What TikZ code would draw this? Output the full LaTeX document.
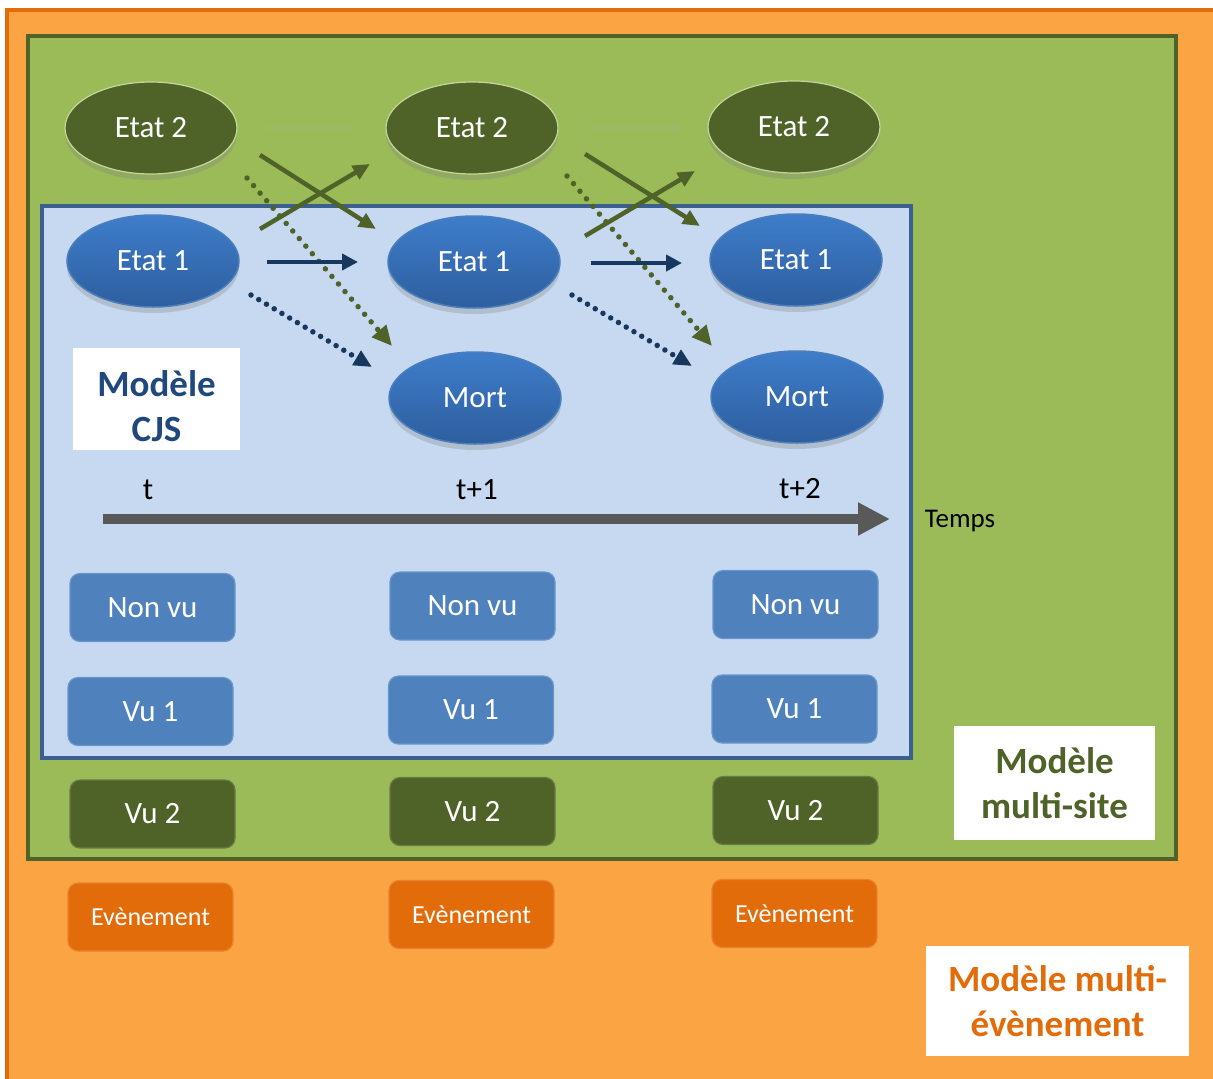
\documentclass[tikz,border=0pt]{standalone}
\usepackage{fontspec}
\setmainfont{Carlito}
\usetikzlibrary{arrows.meta,shadows,shapes.geometric}
\definecolor{orfill}{HTML}{FBA443}
\definecolor{orline}{HTML}{E36C0A}
\definecolor{grfill}{HTML}{9BBB59}
\definecolor{grdark}{HTML}{4F6228}
\definecolor{grlight}{HTML}{C3D69B}
\definecolor{blfill}{HTML}{C6D9F1}
\definecolor{blline}{HTML}{3B5F8E}
\definecolor{bltop}{HTML}{3E7DCA}
\definecolor{blbot}{HTML}{2E5E9F}
\definecolor{blborder}{HTML}{4A7EBB}
\definecolor{blrect}{HTML}{4F81BD}
\definecolor{blrectline}{HTML}{6A96CB}
\definecolor{navy}{HTML}{17375E}
\definecolor{timegray}{HTML}{595959}
\definecolor{ghost}{HTML}{9EB964}
\definecolor{cjsblue}{HTML}{1F497D}
\tikzset{
  ellbase/.style={ellipse, minimum width=172pt, minimum height=92pt, inner sep=0pt,
    text=white, font=\fontsize{31}{31}\selectfont,
    drop shadow={opacity=0.3, shadow xshift=0pt, shadow yshift=-6pt}},
  etattwo/.style={ellbase, fill=grdark, draw=grlight, line width=1.2pt},
  etatone/.style={ellbase, top color=bltop, bottom color=blbot, draw=blborder, line width=1.5pt},
  rectbase/.style={rectangle, rounded corners=10pt, minimum width=165pt, minimum height=68pt,
    inner sep=0pt, text=white, font=\fontsize{31}{31}\selectfont, line width=1.2pt},
  bluerect/.style={rectbase, fill=blrect, draw=blrectline},
  greenrect/.style={rectbase, fill=grdark, draw=grdark!85!white},
  orangerect/.style={rectbase, fill=orline, draw=orline!85!white, font=\fontsize{26}{26}\selectfont},
  labelbox/.style={rectangle, fill=white, inner sep=0pt, align=center,
    font=\bfseries\fontsize{37}{45}\selectfont},
  navyarrow/.style={navy, line width=4pt, -{Triangle[length=16pt,width=16pt]}},
  greenarrow/.style={grdark, line width=4.5pt, -{Triangle[length=17pt,width=15pt]}},
  ghostarrow/.style={ghost, line width=4pt, -{Triangle[length=10pt,width=10pt]}},
  navydots/.style={navy, line width=5.5pt, dash pattern=on 0pt off 9pt, line cap=round,
    -{Triangle[length=18pt,width=16pt]}},
  greendots/.style={grdark, line width=5.5pt, dash pattern=on 0pt off 10pt, line cap=round,
    -{Triangle[length=20pt,width=18pt]}},
  timelabel/.style={text=black, font=\fontsize{31}{31}\selectfont, inner sep=0pt}
}
\begin{document}
\begin{tikzpicture}[x=1pt,y=-1pt]
\useasboundingbox (0,0) rectangle (1213,1079);
\clip (0,0) rectangle (1213,1079);
\fill[white] (0,0) rectangle (1213,1079);
% frames
\draw[orline, fill=orfill, line width=4.5pt] (7,10) rectangle (1240,1110);
\draw[grdark, fill=grfill, line width=4.5pt] (28,36) rectangle (1176,859);
\draw[blline, fill=blfill, line width=4pt] (42,206) rectangle (911,758);

% label boxes
\node[labelbox, text=cjsblue, minimum width=167pt, minimum height=102pt] (cjs) at (156.5,399)
  {\raisebox{-11pt}[\height][\depth]{\begin{tabular}{@{}c@{}}Modèle\\CJS\end{tabular}}};
\node[labelbox, text=grdark, minimum width=201pt, minimum height=114pt] (msite) at (1054.5,783) {Modèle\\multi-site};
\node[labelbox, text=orline, minimum width=263pt, minimum height=110pt] (mevent) at (1057.5,1001) {Modèle multi-\\évènement};

% ellipses
\node[etattwo] (e2a) at (151,128) {Etat 2};
\node[etattwo] (e2b) at (472,128) {Etat 2};
\node[etattwo] (e2c) at (794,127) {Etat 2};
\node[etatone] (e1a) at (153,261) {Etat 1};
\node[etatone] (e1b) at (474,262) {Etat 1};
\node[etatone] (e1c) at (796,260) {Etat 1};
\node[etatone] (mb) at (475,398) {Mort};
\node[etatone] (mc) at (797,397) {Mort};

% arrow end points
\coordinate (g1s) at (265,128);  \coordinate (g1e) at (357,128);
\coordinate (g2s) at (590,128);  \coordinate (g2e) at (682,128);
\coordinate (h1s) at (267,262);  \coordinate (h1e) at (358,262);
\coordinate (h2s) at (591,263);  \coordinate (h2e) at (682,263);
\coordinate (d1s) at (260,155);  \coordinate (d1e) at (376,229);
\coordinate (d2s) at (585,154);  \coordinate (d2e) at (700,226);
\coordinate (u1s) at (260,229);  \coordinate (u1e) at (370,164);
\coordinate (u2s) at (585,236);  \coordinate (u2e) at (695,171);
\coordinate (gd1s) at (247,178); \coordinate (gd1e) at (392,346);
\coordinate (gd2s) at (567,176); \coordinate (gd2e) at (712,346);
\coordinate (nd1s) at (251,295); \coordinate (nd1e) at (372,367);
\coordinate (nd2s) at (572,295); \coordinate (nd2e) at (692,366);

\draw[ghostarrow] (g1s) -- (g1e);
\draw[ghostarrow] (g2s) -- (g2e);
\draw[greendots] (gd1s) -- (gd1e);
\draw[greendots] (gd2s) -- (gd2e);
\draw[navydots] (nd1s) -- (nd1e);
\draw[navydots] (nd2s) -- (nd2e);
\draw[navyarrow] (h1s) -- (h1e);
\draw[navyarrow] (h2s) -- (h2e);
\draw[greenarrow] (d1s) -- (d1e);
\draw[greenarrow] (d2s) -- (d2e);
\draw[greenarrow] (u1s) -- (u1e);
\draw[greenarrow] (u2s) -- (u2e);

% time axis
\coordinate (ts) at (103,519);
\coordinate (te) at (890,519);
\draw[timegray, line width=10pt, -{Triangle[length=32pt,width=31pt]}] (ts) -- (te);
\node[timelabel] (t0) at (148,490) {t};
\node[timelabel] (t1) at (477,490) {t+1};
\node[timelabel] (t2) at (800,489) {t+2};
\node[timelabel, font=\fontsize{27}{27}\selectfont] (temps) at (960,521) {Temps};

% rectangles
\node[bluerect] (nva) at (152.5,607.5) {Non vu};
\node[bluerect] (nvb) at (472.5,606) {Non vu};
\node[bluerect] (nvc) at (795.5,604.5) {Non vu};
\node[bluerect] (v1a) at (150.5,711.5) {Vu 1};
\node[bluerect] (v1b) at (471,710) {Vu 1};
\node[bluerect] (v1c) at (794.5,709) {Vu 1};
\node[greenrect] (v2a) at (152.5,814) {Vu 2};
\node[greenrect] (v2b) at (472.5,811.5) {Vu 2};
\node[greenrect] (v2c) at (795.5,810.5) {Vu 2};
\node[orangerect] (eva) at (150.5,917) {Evènement};
\node[orangerect] (evb) at (471.5,914.5) {Evènement};
\node[orangerect] (evc) at (794.5,913.5) {Evènement};
\end{tikzpicture}
\end{document}
